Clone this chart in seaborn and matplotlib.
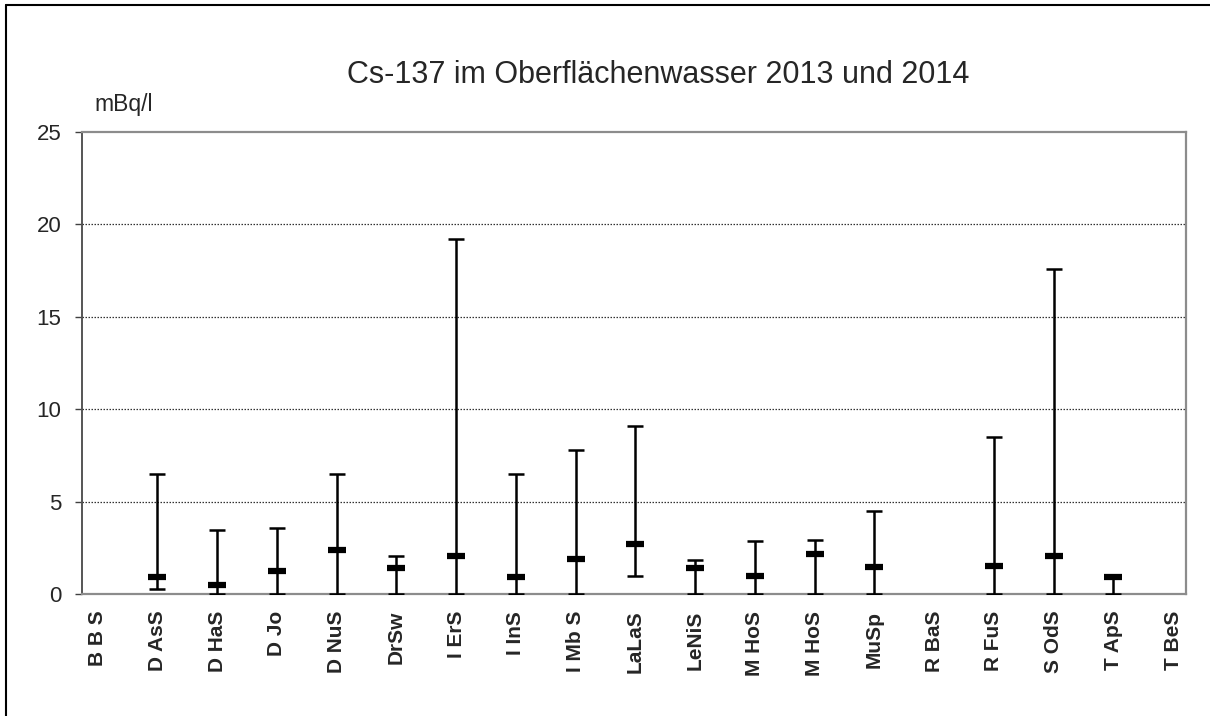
import numpy as np
import pandas as pd
import matplotlib
matplotlib.use("Agg")
import matplotlib.pyplot as plt
import seaborn as sns
from matplotlib.lines import Line2D

categories = ["B B S", "D AsS", "D HaS", "D Jo", "D NuS", "DrSw", "I ErS", "I InS",
              "I Mb S", "LaLaS", "LeNiS", "M HoS", "M HoS", "MuSp", "R BaS", "R FuS",
              "S OdS", "T ApS", "T BeS"]
high_vals = [np.nan, 6.47, 3.46, 3.59, 6.47, 2.08, 19.2, 6.47, 7.79, 9.09, 1.83, 2.86,
             2.93, 4.49, np.nan, 8.50, 17.6, 0.91, np.nan]
mean_vals = [np.nan, 0.91, 0.51, 1.25, 2.36, 1.43, 2.07, 0.91, 1.90, 2.72, 1.38, 0.98,
             2.14, 1.45, np.nan, 1.49, 2.07, 0.91, np.nan]
low_vals = [np.nan, 0.27, 0.0, 0.0, 0.0, 0.0, 0.0, 0.0, 0.0, 0.98, 0.0, 0.0,
            0.0, 0.0, np.nan, 0.0, 0.0, 0.0, np.nan]
y_ticks = [0, 5, 10, 15, 20, 25]

df = pd.DataFrame({"pos": np.arange(len(categories)), "cat": categories,
                   "high": high_vals, "mean": mean_vals, "low": low_vals})

sns.set_style("white")
plt.rcParams["font.family"] = ["Liberation Sans", "DejaVu Sans"]

fig = plt.figure(figsize=(12.1, 7.16), dpi=100)
W, H = 1210, 716
l, r, t, b = 82, 1186, 132, 594
ax = fig.add_axes([l / W, 1 - b / H, (r - l) / W, (b - t) / H])

valid = df.dropna()
yerr = np.vstack([valid["mean"] - valid["low"], valid["high"] - valid["mean"]])
ax.errorbar(valid["pos"], valid["mean"], yerr=yerr, fmt="none", ecolor="black",
            elinewidth=1.8, capsize=5.5, capthick=1.8, zorder=3)
sns.scatterplot(data=valid, x="pos", y="mean", marker="_", s=170, linewidth=4.5,
                color="black", ax=ax, zorder=4, legend=False)

ax.set_xlim(-0.261, 18.216)
ax.set_ylim(0, 25)
ax.set_yticks(y_ticks)
ax.set_yticklabels([str(v) for v in y_ticks], fontsize=16)
ax.set_xticks(df["pos"])
ax.set_xticklabels(categories, rotation=90, fontsize=15, fontweight="bold")
ax.tick_params(axis="x", length=0, pad=12)
ax.tick_params(axis="y", length=5, width=1, color="#404040", pad=10, left=True, direction="out")
ax.set_xlabel("")
ax.set_ylabel("")

for v in y_ticks[1:-1]:
    ax.axhline(v, color="#333333", linestyle=(0, (1.2, 1.2)), linewidth=0.9, zorder=1)

for side in ["top", "right", "bottom"]:
    ax.spines[side].set_color("#8c8c8c")
    ax.spines[side].set_linewidth(1.6)
ax.spines["left"].set_color("#555555")
ax.spines["left"].set_linewidth(1.4)
for s in ax.spines.values():
    s.set_visible(True)

fig.text(658 / W, 1 - 75 / H, "Cs-137 im Oberflächenwasser 2013 und 2014",
         ha="center", va="center", fontsize=22)
fig.text(94 / W, 1 - 104 / H, "mBq/l", ha="left", va="center", fontsize=16.5)

fig.add_artist(Line2D([6 / W, 1.0], [1 - 5 / H, 1 - 5 / H], transform=fig.transFigure,
                      color="black", linewidth=1.5))
fig.add_artist(Line2D([6 / W, 6 / W], [0, 1 - 5 / H], transform=fig.transFigure,
                      color="black", linewidth=1.5))

fig.savefig("out.png", dpi=100)
